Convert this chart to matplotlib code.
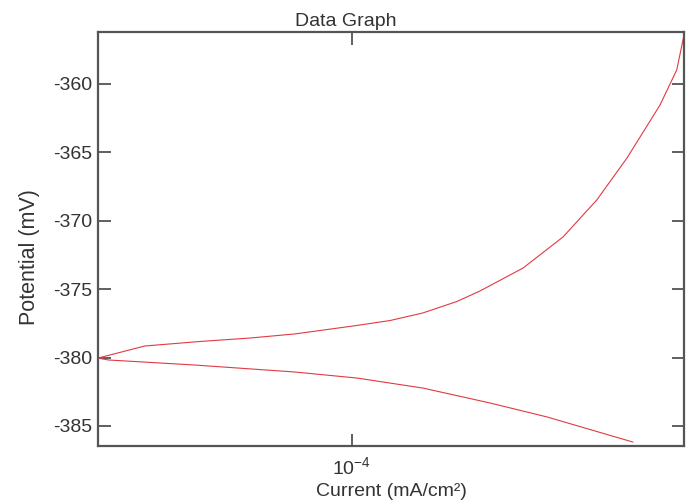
import numpy as np
import matplotlib
matplotlib.use("Agg")
import matplotlib.pyplot as plt
from matplotlib.ticker import FixedLocator, FixedFormatter, NullLocator

plt.rcParams['font.family'] = ['Liberation Sans', 'DejaVu Sans']
plt.rcParams['axes.unicode_minus'] = False
plt.rcParams['mathtext.default'] = 'regular'

# Anodic (upper) branch: log10(current), potential (mV)
upper_logi = [-4.699, -4.570, -4.418, -4.281, -4.157, -3.986, -3.895, -3.805, -3.711,
              -3.648, -3.529, -3.419, -3.326, -3.243, -3.152, -3.106, -3.086]
upper_mv = [-380.04, -379.16, -378.83, -378.58, -378.28, -377.66, -377.30, -376.75, -375.91,
            -375.15, -373.47, -371.20, -368.50, -365.44, -361.57, -359.01, -356.46]

# Cathodic (lower) branch
lower_logi = [-4.699, -4.671, -4.432, -4.157, -3.986, -3.805, -3.620, -3.463, -3.227]
lower_mv = [-380.04, -380.18, -380.55, -381.06, -381.50, -382.23, -383.32, -384.34, -386.17]

y_ticks = [-360, -365, -370, -375, -380, -385]
x_ticks = [1e-4]
x_ticklabels = ['$10^{-4}$']

fig = plt.figure(figsize=(6.91, 5.03), dpi=100)
ax = fig.add_axes([98/691, 1 - 446/503, 586/691, 414/503])

ax.plot(10**np.array(upper_logi), upper_mv, color='#e03a44', lw=0.8)
ax.plot(10**np.array(lower_logi), lower_mv, color='#e03a44', lw=0.8)

ax.set_xscale('log')
ax.set_xlim(10**-4.699, 10**-3.086)
ax.set_ylim(-386.46, -356.24)

ax.xaxis.set_major_locator(FixedLocator(x_ticks))
ax.xaxis.set_major_formatter(FixedFormatter(x_ticklabels))
ax.xaxis.set_minor_locator(NullLocator())
ax.yaxis.set_major_locator(FixedLocator(y_ticks))
ax.yaxis.set_minor_locator(NullLocator())

ax.tick_params(which='major', direction='in', top=True, right=True,
               length=9, width=1.2, color='#444444', labelsize=14,
               labelcolor='#333333')
ax.tick_params(axis='y', pad=4)
ax.tick_params(axis='x', pad=7)
for s in ax.spines.values():
    s.set_color('#555555')
    s.set_linewidth(1.6)

fig.text(0.5, 1 - 26/503, 'Data Graph', fontsize=14, color='#333333',
         ha='center', va='baseline')
ax.set_xlabel('Current (mA/cm²)', fontsize=14, color='#333333', labelpad=4)
fig.text(29/691, 1 - 257/503, 'Potential (mV)', fontsize=15.5, color='#333333',
         rotation=90, ha='center', va='center')

fig.savefig('out.png', dpi=100)
